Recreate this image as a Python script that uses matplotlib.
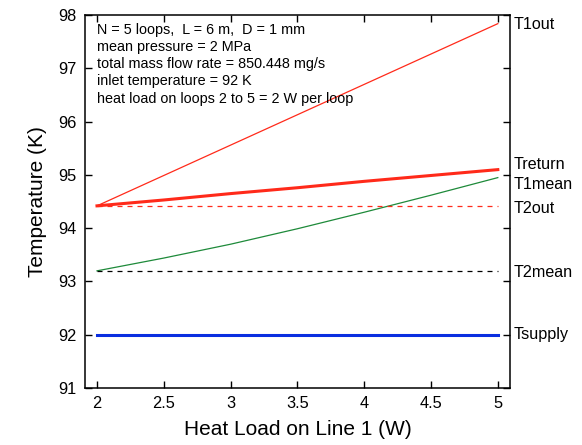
import numpy as np
import matplotlib.pyplot as plt

plt.rcParams['font.family'] = ['Liberation Sans', 'DejaVu Sans']

heat_load = [2.0, 2.5, 3.0, 3.5, 4.0, 4.5, 5.0]
t1_out = [94.42, 94.99, 95.56, 96.13, 96.70, 97.27, 97.84]
t_return = [94.42, 94.53, 94.65, 94.76, 94.88, 94.99, 95.10]
t1_mean = [93.20, 93.44, 93.70, 93.99, 94.30, 94.62, 94.95]
t2_out = [94.42] * 7
t2_mean = [93.19] * 7
t_supply = [92.0] * 7

label_names = ["T1out", "Treturn", "T1mean", "T2out", "T2mean", "Tsupply"]
label_y = [97.82, 95.2, 94.83, 94.37, 93.17, 92.0]

info = ("N = 5 loops,  L = 6 m,  D = 1 mm\n"
        "mean pressure = 2 MPa\n"
        "total mass flow rate = 850.448 mg/s\n"
        "inlet temperature = 92 K\n"
        "heat load on loops 2 to 5 = 2 W per loop")

fig = plt.figure(figsize=(5.82, 4.45), dpi=100)
ax = fig.add_axes([0.146, 0.128, 0.73, 0.838])

ax.plot(heat_load, t1_out, color="#ff2a1a", lw=0.9)
ax.plot(heat_load, t_return, color="#ff2a1a", lw=2.2)
ax.plot(heat_load, t1_mean, color="#1e8a3a", lw=0.9)
ax.plot(heat_load, t2_out, color="#ff2a1a", lw=0.9, ls=(0, (4, 4)))
ax.plot(heat_load, t2_mean, color="black", lw=0.9, ls=(0, (4, 4)))
ax.plot(heat_load, t_supply, color="#0a2ee0", lw=2.2)

for name, y in zip(label_names, label_y):
    ax.annotate(name, xy=(1.0, y), xycoords=("axes fraction", "data"),
                xytext=(3, 0), textcoords="offset points",
                va="center", ha="left", fontsize=11.6)

ax.text(2.0, 97.86, info, fontsize=10.4, va="top", ha="left", linespacing=1.3)

ax.set_xlim(1.91, 5.09)
ax.set_ylim(91, 98)
ax.set_xticks(np.arange(2, 5.01, 0.5))
ax.set_xticklabels(["2", "2.5", "3", "3.5", "4", "4.5", "5"])
ax.set_yticks(range(91, 99))
ax.tick_params(direction="in", top=True, right=True, length=5, width=1,
               labelsize=11.8, pad=6)
for s in ax.spines.values():
    s.set_linewidth(1.1)

ax.set_xlabel("Heat Load on Line 1 (W)", fontsize=15, labelpad=6)
ax.set_ylabel("Temperature (K)", fontsize=15, labelpad=8)

fig.savefig("out.png", dpi=100)
